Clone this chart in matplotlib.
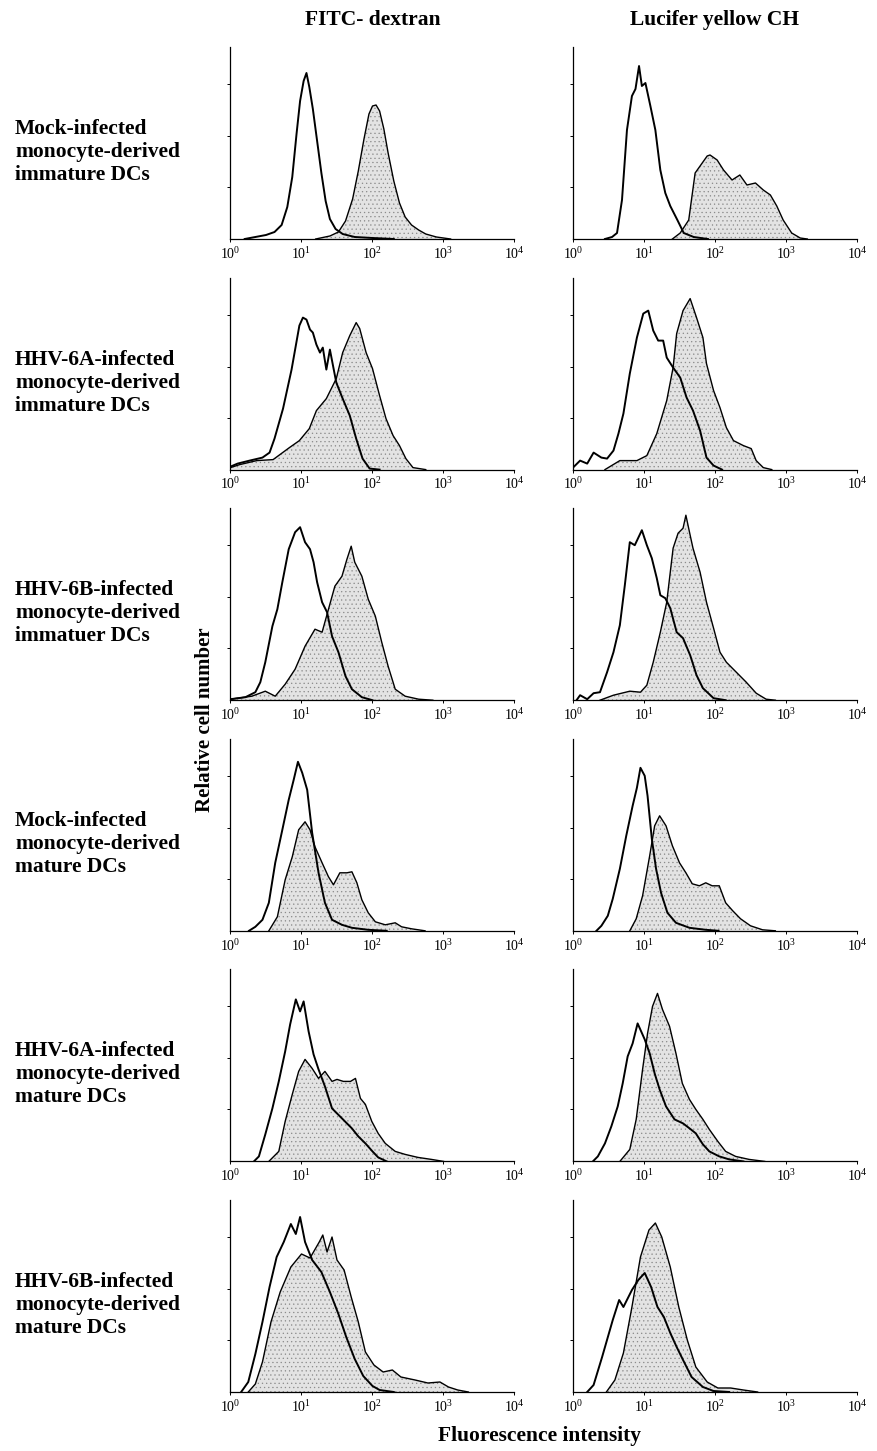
import matplotlib
matplotlib.use("Agg")
import matplotlib.pyplot as plt
import numpy as np
from matplotlib.ticker import FixedLocator, LogFormatterMathtext

plt.rcParams["font.family"] = ["Liberation Serif", "DejaVu Serif"]
plt.rcParams["mathtext.fontset"] = "custom"
plt.rcParams["mathtext.rm"] = "Liberation Serif"
plt.rcParams["hatch.linewidth"] = 0.4

# Column / row labels
COLUMNS = ["FITC- dextran", "Lucifer yellow CH"]
ROWS = [
    "Mock-infected\nmonocyte-derived\nimmature DCs",
    "HHV-6A-infected\nmonocyte-derived\nimmature DCs",
    "HHV-6B-infected\nmonocyte-derived\nimmatuer DCs",
    "Mock-infected\nmonocyte-derived\nmature DCs",
    "HHV-6A-infected\nmonocyte-derived\nmature DCs",
    "HHV-6B-infected\nmonocyte-derived\nmature DCs",
]

# Histograms: x = log10(fluorescence), y = relative cell number
# ctrl = open outline, stain = grey filled
fitc_mock_imm_ctrl = (
    [0.2, 0.35, 0.5, 0.62, 0.72, 0.8, 0.87, 0.93, 0.98, 1.03, 1.07, 1.11, 1.16, 1.22, 1.28, 1.34, 1.40, 1.48, 1.58, 1.75, 2.0, 2.3],
    [0, 2, 4, 7, 14, 32, 62, 105, 138, 158, 166, 152, 130, 98, 66, 38, 20, 10, 5, 2, 1, 0],
)
fitc_mock_imm_stain = (
    [1.2, 1.4, 1.52, 1.62, 1.72, 1.8, 1.88, 1.95, 2.0, 2.05, 2.1, 2.16, 2.22, 2.3, 2.38, 2.46, 2.55, 2.65, 2.75, 2.9, 3.1],
    [0, 3, 7, 18, 40, 68, 100, 125, 133, 134, 128, 110, 86, 58, 36, 22, 14, 9, 5, 2, 0],
)
ly_mock_imm_ctrl = (
    [0.45, 0.55, 0.62, 0.69, 0.76, 0.83, 0.88, 0.93, 0.97, 1.02, 1.09, 1.16, 1.23, 1.30, 1.37, 1.47, 1.56, 1.70, 1.9],
    [0, 2, 6, 39, 109, 143, 150, 173, 153, 156, 133, 109, 69, 46, 33, 19, 6, 2, 0],
)
ly_mock_imm_stain = (
    [1.4, 1.51, 1.63, 1.72, 1.79, 1.89, 1.93, 2.03, 2.12, 2.24, 2.35, 2.45, 2.57, 2.68, 2.78, 2.87, 2.96, 3.08, 3.2, 3.3],
    [0, 6, 19, 66, 73, 83, 84, 79, 69, 59, 64, 54, 56, 49, 44, 33, 19, 6, 1, 0],
)
fitc_6a_imm_ctrl = (
    [0.0, 0.1, 0.27, 0.45, 0.55, 0.62, 0.74, 0.86, 0.97, 1.02, 1.07, 1.12, 1.16, 1.21, 1.26, 1.30, 1.35, 1.40, 1.49, 1.58, 1.68, 1.77, 1.86, 1.96, 2.1],
    [3, 6, 9, 12, 17, 31, 61, 100, 144, 152, 150, 140, 137, 125, 117, 122, 100, 120, 87, 71, 54, 31, 11, 1, 0],
)
fitc_6a_imm_stain = (
    [0.0, 0.13, 0.37, 0.6, 0.83, 0.97, 1.11, 1.21, 1.35, 1.49, 1.58, 1.68, 1.77, 1.82, 1.91, 2.0, 2.1, 2.19, 2.29, 2.38, 2.47, 2.57, 2.75],
    [2, 5, 9, 10, 22, 29, 41, 59, 71, 91, 117, 134, 147, 141, 117, 101, 74, 51, 34, 24, 11, 2, 0],
)
ly_6a_imm_ctrl = (
    [0.0, 0.1, 0.2, 0.29, 0.40, 0.48, 0.57, 0.64, 0.71, 0.80, 0.90, 0.99, 1.06, 1.13, 1.20, 1.27, 1.32, 1.41, 1.51, 1.60, 1.69, 1.79, 1.88, 1.98, 2.1],
    [2, 9, 6, 17, 12, 11, 19, 36, 56, 96, 132, 156, 159, 139, 129, 129, 112, 102, 92, 72, 59, 39, 12, 4, 0],
)
ly_6a_imm_stain = (
    [0.45, 0.66, 0.90, 1.04, 1.18, 1.32, 1.41, 1.46, 1.55, 1.65, 1.74, 1.83, 1.88, 1.98, 2.07, 2.16, 2.26, 2.40, 2.51, 2.58, 2.68, 2.8],
    [0, 9, 9, 14, 36, 69, 102, 136, 159, 171, 152, 132, 106, 79, 62, 42, 29, 24, 21, 9, 2, 0],
)
fitc_6b_imm_ctrl = (
    [0.0, 0.21, 0.35, 0.42, 0.49, 0.59, 0.66, 0.73, 0.82, 0.91, 0.98, 1.05, 1.12, 1.17, 1.22, 1.29, 1.36, 1.43, 1.52, 1.62, 1.71, 1.85, 2.0],
    [1, 3, 8, 18, 38, 74, 91, 118, 151, 168, 173, 158, 151, 138, 118, 98, 88, 64, 48, 24, 11, 3, 0],
)
fitc_6b_imm_stain = (
    [0.0, 0.30, 0.49, 0.63, 0.77, 0.91, 1.05, 1.19, 1.29, 1.38, 1.47, 1.57, 1.64, 1.70, 1.75, 1.85, 1.94, 2.04, 2.13, 2.22, 2.32, 2.46, 2.65, 2.85],
    [1, 4, 9, 4, 16, 31, 54, 71, 68, 91, 114, 124, 141, 154, 138, 124, 101, 84, 58, 34, 11, 4, 1, 0],
)
ly_6b_imm_ctrl = (
    [0.05, 0.10, 0.20, 0.29, 0.38, 0.48, 0.57, 0.66, 0.73, 0.80, 0.87, 0.97, 1.04, 1.11, 1.18, 1.23, 1.30, 1.37, 1.46, 1.55, 1.65, 1.74, 1.83, 1.98, 2.15],
    [0, 5, 1, 7, 8, 28, 48, 75, 115, 158, 155, 170, 155, 142, 122, 105, 102, 92, 68, 62, 45, 25, 12, 2, 0],
)
ly_6b_imm_stain = (
    [0.38, 0.57, 0.80, 0.95, 1.04, 1.13, 1.23, 1.32, 1.41, 1.48, 1.55, 1.59, 1.65, 1.69, 1.79, 1.88, 1.98, 2.07, 2.16, 2.30, 2.44, 2.58, 2.72, 2.85],
    [0, 5, 9, 8, 15, 38, 68, 98, 152, 167, 172, 185, 165, 152, 128, 98, 72, 48, 38, 28, 18, 7, 1, 0],
)
fitc_mock_mat_ctrl = (
    [0.26, 0.35, 0.45, 0.54, 0.63, 0.73, 0.82, 0.89, 0.95, 1.01, 1.08, 1.15, 1.24, 1.33, 1.43, 1.57, 1.71, 1.94, 2.2],
    [0, 4, 11, 28, 68, 101, 131, 151, 169, 158, 141, 98, 58, 28, 11, 6, 3, 1, 0],
)
fitc_mock_mat_stain = (
    [0.54, 0.66, 0.77, 0.87, 0.96, 1.05, 1.12, 1.19, 1.29, 1.38, 1.45, 1.54, 1.64, 1.71, 1.78, 1.85, 1.94, 2.04, 2.18, 2.32, 2.41, 2.55, 2.74],
    [0, 14, 51, 74, 101, 109, 101, 84, 68, 54, 46, 58, 58, 59, 48, 31, 18, 9, 6, 8, 4, 2, 0],
)
ly_mock_mat_ctrl = (
    [0.33, 0.40, 0.49, 0.56, 0.66, 0.75, 0.84, 0.90, 0.95, 1.01, 1.05, 1.11, 1.17, 1.24, 1.33, 1.45, 1.64, 1.87, 2.05],
    [0, 5, 15, 32, 62, 95, 125, 143, 163, 155, 135, 92, 62, 38, 18, 8, 3, 1, 0],
)
ly_mock_mat_stain = (
    [0.80, 0.89, 0.98, 1.08, 1.15, 1.22, 1.31, 1.40, 1.50, 1.59, 1.68, 1.78, 1.87, 1.96, 2.06, 2.15, 2.25, 2.36, 2.50, 2.67, 2.85],
    [0, 12, 35, 75, 105, 115, 105, 85, 68, 58, 47, 45, 48, 45, 45, 28, 20, 12, 5, 1, 0],
)
fitc_6a_mat_ctrl = (
    [0.33, 0.40, 0.49, 0.59, 0.68, 0.77, 0.84, 0.92, 0.98, 1.03, 1.10, 1.17, 1.24, 1.33, 1.43, 1.57, 1.71, 1.80, 1.90, 2.0, 2.08, 2.2],
    [0, 5, 27, 53, 80, 110, 137, 162, 150, 160, 130, 107, 92, 75, 53, 43, 33, 25, 18, 10, 4, 0],
)
fitc_6a_mat_stain = (
    [0.54, 0.68, 0.77, 0.87, 0.96, 1.05, 1.15, 1.24, 1.33, 1.43, 1.50, 1.59, 1.69, 1.76, 1.83, 1.90, 1.99, 2.08, 2.18, 2.32, 2.46, 2.64, 2.83, 3.0],
    [0, 10, 40, 67, 90, 102, 93, 83, 90, 80, 82, 80, 80, 83, 63, 57, 40, 28, 18, 10, 7, 4, 2, 0],
)
ly_6a_mat_ctrl = (
    [0.28, 0.35, 0.45, 0.54, 0.63, 0.70, 0.77, 0.84, 0.91, 0.96, 1.01, 1.08, 1.15, 1.22, 1.31, 1.43, 1.55, 1.66, 1.73, 1.83, 1.92, 2.06, 2.20, 2.4],
    [0, 5, 18, 35, 55, 78, 105, 118, 138, 130, 122, 108, 88, 72, 55, 42, 38, 32, 28, 17, 10, 5, 2, 0],
)
ly_6a_mat_stain = (
    [0.66, 0.80, 0.89, 0.98, 1.05, 1.12, 1.19, 1.26, 1.36, 1.45, 1.54, 1.64, 1.73, 1.83, 1.92, 2.04, 2.15, 2.29, 2.48, 2.7],
    [0, 12, 42, 92, 128, 155, 168, 152, 135, 108, 78, 62, 52, 42, 32, 20, 10, 5, 2, 0],
)
fitc_6b_mat_ctrl = (
    [0.15, 0.25, 0.35, 0.45, 0.55, 0.65, 0.75, 0.85, 0.92, 0.98, 1.05, 1.15, 1.28, 1.40, 1.52, 1.63, 1.75, 1.87, 2.0, 2.1, 2.3],
    [0, 10, 38, 70, 105, 135, 150, 168, 158, 175, 150, 132, 120, 100, 78, 55, 33, 16, 6, 2, 0],
)
fitc_6b_mat_stain = (
    [0.25, 0.35, 0.45, 0.57, 0.70, 0.85, 1.0, 1.12, 1.25, 1.30, 1.36, 1.43, 1.50, 1.60, 1.70, 1.80, 1.90, 2.02, 2.15, 2.28, 2.40, 2.60, 2.78, 2.95, 3.07, 3.20, 3.35],
    [0, 8, 30, 70, 100, 125, 138, 134, 150, 157, 140, 155, 132, 122, 95, 70, 40, 27, 20, 22, 15, 12, 9, 10, 5, 2, 0],
)
ly_6b_mat_ctrl = (
    [0.20, 0.29, 0.41, 0.56, 0.65, 0.71, 0.83, 0.92, 1.01, 1.10, 1.19, 1.28, 1.37, 1.46, 1.55, 1.67, 1.83, 1.98, 2.2],
    [0, 7, 35, 72, 92, 85, 102, 112, 119, 105, 85, 75, 59, 45, 32, 15, 5, 1, 0],
)
ly_6b_mat_stain = (
    [0.47, 0.59, 0.71, 0.83, 0.95, 1.07, 1.16, 1.25, 1.37, 1.49, 1.61, 1.73, 1.89, 2.04, 2.22, 2.40, 2.6],
    [0, 12, 39, 85, 135, 162, 169, 155, 125, 85, 52, 25, 10, 4, 4, 2, 0],
)

PANELS = [
    [(fitc_mock_imm_ctrl, fitc_mock_imm_stain), (ly_mock_imm_ctrl, ly_mock_imm_stain)],
    [(fitc_6a_imm_ctrl, fitc_6a_imm_stain), (ly_6a_imm_ctrl, ly_6a_imm_stain)],
    [(fitc_6b_imm_ctrl, fitc_6b_imm_stain), (ly_6b_imm_ctrl, ly_6b_imm_stain)],
    [(fitc_mock_mat_ctrl, fitc_mock_mat_stain), (ly_mock_mat_ctrl, ly_mock_mat_stain)],
    [(fitc_6a_mat_ctrl, fitc_6a_mat_stain), (ly_6a_mat_ctrl, ly_6a_mat_stain)],
    [(fitc_6b_mat_ctrl, fitc_6b_mat_stain), (ly_6b_mat_ctrl, ly_6b_mat_stain)],
]

W, H = 878, 1451
fig = plt.figure(figsize=(W / 100, H / 100), dpi=100)

col_left = [230.5, 573]  # pixel x of 10^0
ax_w = 284
ax_h = 192
base0 = 239
row_step = 230.6

for r in range(6):
    base = base0 + r * row_step
    for c in range(2):
        ax = fig.add_axes([col_left[c] / W, (H - base) / H, ax_w / W, ax_h / H])
        ctrl, stain = PANELS[r][c]
        sx = 10 ** np.array(stain[0])
        cx = 10 ** np.array(ctrl[0])
        ax.fill_between(sx, stain[1], 0, facecolor="#e3e3e3", edgecolor="#8a8a8a",
                        hatch="....", linewidth=0)
        ax.plot(sx, stain[1], color="black", lw=1.0)
        ax.plot(cx, ctrl[1], color="black", lw=1.4)
        ax.set_xscale("log")
        ax.set_xlim(1, 1e4)
        ax.set_ylim(0, 192)
        for s in ["top", "right"]:
            ax.spines[s].set_visible(False)
        ax.spines["left"].set_linewidth(0.9)
        ax.spines["bottom"].set_linewidth(0.9)
        ax.xaxis.set_major_locator(FixedLocator([1, 10, 100, 1000, 10000]))
        ax.xaxis.set_minor_locator(FixedLocator([]))
        ax.xaxis.set_major_formatter(LogFormatterMathtext())
        ax.yaxis.set_major_locator(FixedLocator([52, 103, 155]))
        ax.set_yticklabels([])
        ax.tick_params(axis="x", length=2, width=0.7, labelsize=10, pad=3)
        ax.tick_params(axis="y", length=2, width=0.7, direction="out")
        ax.patch.set_alpha(0)

# column titles
for c, title in enumerate(COLUMNS):
    fig.text((col_left[c] + ax_w / 2) / W, 1 - 20 / H, title, ha="center", va="center",
             fontsize=15.5, fontweight="bold")

# row labels
for r, lab in enumerate(ROWS):
    fig.text(15 / W, 1 - (152 + r * row_step) / H, lab, ha="left", va="center",
             fontsize=15.5, fontweight="bold", linespacing=1.2)

fig.text(205 / W, 1 - 720 / H, "Relative cell number", rotation=90, ha="center",
         va="center", fontsize=15, fontweight="bold")
fig.text(540 / W, 1 - 1436 / H, "Fluorescence intensity", ha="center", va="center",
         fontsize=15.5, fontweight="bold")

fig.savefig("out.png", dpi=100)
